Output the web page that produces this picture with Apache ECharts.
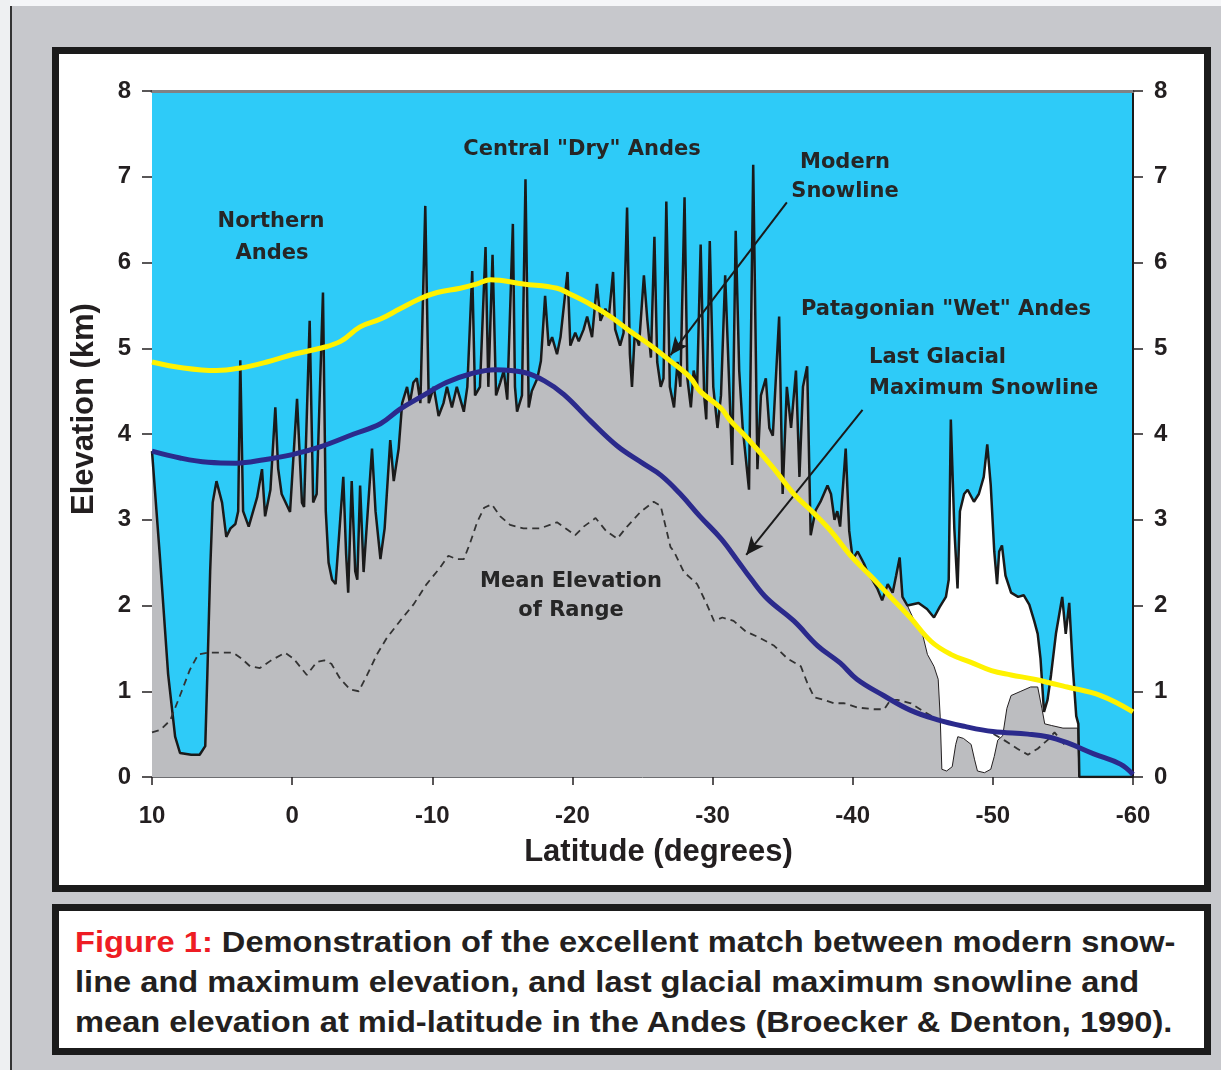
<!DOCTYPE html>
<html>
<head>
<meta charset="utf-8">
<title>Andes snowline and elevation</title>
<script src="https://cdn.jsdelivr.net/npm/echarts@6/dist/echarts.min.js"></script>
<style>
  html, body { margin: 0; padding: 0; }
  body {
    width: 1221px; height: 1070px; position: relative; overflow: hidden;
    background: #c7c8cc;
  }
  .top-strip { position: absolute; left: 0; top: 0; width: 1221px; height: 6px; background: #f5f6f8; }
  .left-strip { position: absolute; left: 0; top: 0; width: 10px; height: 1070px; background: #eef0f2; }
  .left-rule { position: absolute; left: 10px; top: 6px; width: 2px; height: 1064px; background: #333; }
  .panel {
    position: absolute; left: 52px; top: 47px; width: 1159px; height: 845px;
    box-sizing: border-box; border: 7px solid #1b1b1b; background: #fff;
  }
  .caption {
    position: absolute; left: 52px; top: 904px; width: 1159px; height: 151px;
    box-sizing: border-box; border: 7px solid #1b1b1b; background: #fff;
    padding: 11px 0 0 16px;
    font-family: "Liberation Sans", Arial, sans-serif; font-weight: bold;
    font-size: 29px; line-height: 40px; color: #231f20; white-space: nowrap;
  }
  /* the scanned caption type is a little wider than Arial */
  .caption .txt { transform: scaleX(1.125); transform-origin: 0 0; }
  .caption .fig { color: #ee1c24; }
  #chart { position: absolute; left: 0; top: 0; width: 1221px; height: 1070px; }
</style>
</head>
<body>
<div class="top-strip"></div>
<div class="left-strip"></div>
<div class="left-rule"></div>
<div class="panel"></div>
<div class="caption"><div class="txt"><span class="fig">Figure 1:</span> Demonstration of the excellent match between modern snow-<br>line and maximum elevation, and last glacial maximum snowline and<br>mean elevation at mid-latitude in the Andes (Broecker &amp; Denton, 1990).</div></div>
<div id="chart"></div>

<script>
// [latitude, km] — maximum elevation of the range (thick black profile)
var maxElevation = [
  [10.0, 3.8], [9.45, 2.6], [8.85, 1.2], [8.35, 0.47], [8.0, 0.28], [7.2, 0.26], [6.6, 0.26],
  [6.2, 0.36], [6.05, 1.2], [5.85, 2.4], [5.67, 3.2], [5.4, 3.45], [5.0, 3.2], [4.7, 2.8],
  [4.4, 2.9], [4.05, 2.95], [3.85, 3.1], [3.7, 4.86], [3.5, 3.1], [3.1, 2.92], [2.5, 3.26],
  [2.15, 3.59], [1.93, 3.04], [1.55, 3.35], [1.2, 4.31], [1.0, 3.6], [0.75, 3.3], [0.15, 3.09],
  [-0.35, 4.41], [-0.7, 3.2], [-0.85, 3.15], [-1.25, 5.32], [-1.5, 3.2], [-1.75, 3.3],
  [-2.2, 5.65], [-2.4, 3.1], [-2.6, 2.5], [-2.85, 2.3], [-3.1, 2.25], [-3.65, 3.5], [-3.85, 2.6],
  [-4.0, 2.15], [-4.25, 3.45], [-4.5, 2.4], [-4.65, 2.3], [-4.85, 3.4], [-5.1, 2.39],
  [-5.7, 3.83], [-5.95, 3.1], [-6.3, 2.54], [-6.6, 2.9], [-7.0, 3.93], [-7.25, 3.45],
  [-7.6, 3.83], [-7.85, 4.36], [-8.2, 4.55], [-8.4, 4.36], [-8.65, 4.6], [-8.9, 4.65],
  [-9.15, 4.36], [-9.5, 6.66], [-9.75, 4.36], [-10.1, 4.55], [-10.45, 4.21], [-10.8, 4.36],
  [-11.05, 4.55], [-11.4, 4.31], [-11.75, 4.55], [-12.25, 4.26], [-12.5, 4.55], [-12.85, 5.9],
  [-13.05, 4.45], [-13.4, 4.55], [-13.8, 6.18], [-14.0, 4.55], [-14.3, 6.09], [-14.55, 4.45],
  [-14.85, 4.6], [-15.1, 4.74], [-15.35, 4.4], [-15.75, 6.45], [-15.9, 4.55], [-16.05, 4.26],
  [-16.4, 4.45], [-16.65, 6.97], [-16.88, 4.31], [-17.1, 4.5], [-17.5, 4.65], [-17.75, 4.85],
  [-18.05, 5.61], [-18.3, 5.03], [-18.55, 5.13], [-18.9, 4.93], [-19.15, 5.13], [-19.65, 5.89],
  [-19.85, 5.03], [-20.2, 5.18], [-20.45, 5.08], [-20.8, 5.22], [-21.05, 5.37], [-21.4, 5.13],
  [-21.75, 5.75], [-22.0, 5.32], [-22.35, 5.46], [-22.6, 5.37], [-22.9, 5.89], [-23.05, 5.22],
  [-23.4, 5.03], [-23.65, 5.18], [-23.9, 6.64], [-24.1, 4.93], [-24.25, 4.55], [-24.45, 5.18],
  [-24.75, 5.03], [-25.1, 5.85], [-25.35, 5.32], [-25.6, 4.89], [-25.85, 6.3], [-26.05, 4.84],
  [-26.3, 4.55], [-26.5, 4.65], [-26.7, 6.71], [-26.95, 4.55], [-27.25, 4.31], [-27.5, 4.84],
  [-27.7, 4.55], [-28.0, 6.76], [-28.2, 4.65], [-28.45, 4.31], [-28.65, 4.74], [-28.9, 4.55],
  [-29.15, 6.21], [-29.4, 4.45], [-29.55, 4.17], [-29.8, 6.25], [-30.05, 4.55], [-30.35, 4.07],
  [-30.6, 4.45], [-30.9, 5.85], [-31.15, 4.74], [-31.4, 3.64], [-31.65, 6.37], [-31.9, 4.74],
  [-32.15, 4.07], [-32.6, 3.35], [-32.9, 7.14], [-33.2, 3.59], [-33.45, 4.45], [-33.8, 4.65],
  [-34.05, 4.07], [-34.3, 3.98], [-34.75, 5.37], [-35.0, 3.3], [-35.3, 4.55], [-35.6, 4.07],
  [-35.95, 4.74], [-36.2, 3.5], [-36.45, 4.55], [-36.75, 4.79], [-37.0, 2.82], [-37.35, 3.11],
  [-37.7, 3.21], [-38.2, 3.4], [-38.45, 3.3], [-38.7, 3.0], [-38.9, 3.1], [-39.1, 2.92],
  [-39.5, 3.83], [-39.75, 2.87], [-40.0, 2.54], [-40.35, 2.63], [-40.8, 2.49], [-41.05, 2.39],
  [-41.4, 2.3], [-41.75, 2.2], [-42.1, 2.06], [-42.5, 2.25], [-42.85, 2.15], [-43.1, 2.35],
  [-43.35, 2.56], [-43.55, 2.1], [-43.9, 2.0], [-44.7, 2.03], [-45.3, 1.96], [-45.8, 1.86],
  [-46.2, 1.98], [-46.65, 2.1], [-46.85, 2.3], [-47.0, 4.17], [-47.25, 2.9], [-47.48, 2.2],
  [-47.65, 3.1], [-47.95, 3.3], [-48.2, 3.35], [-48.65, 3.21], [-49.0, 3.3], [-49.35, 3.5],
  [-49.6, 3.88], [-49.85, 3.4], [-50.1, 2.63], [-50.3, 2.25], [-50.45, 2.63], [-50.65, 2.7],
  [-50.9, 2.35], [-51.3, 2.15], [-51.8, 2.1], [-52.2, 2.12], [-52.6, 2.01], [-52.95, 1.82],
  [-53.2, 1.67], [-53.4, 1.38], [-53.65, 0.76], [-53.9, 0.9], [-54.15, 1.19], [-54.5, 1.67],
  [-54.95, 2.1], [-55.2, 1.67], [-55.45, 2.03], [-55.7, 1.29], [-55.95, 0.71], [-56.1, 0.62],
  [-56.17, 0], [-60, 0]
];

// lower edge of the white (ice field) patch in Patagonia; starts a little
// before the patch so the grey covers the patch's left side cleanly
var iceLowerEdge = [
  [-43.35, 2.56], [-43.55, 2.1], [-43.9, 2.0], [-44.4, 1.82], [-44.9, 1.72], [-45.33, 1.43],
  [-45.8, 1.29], [-46.1, 1.14], [-46.24, 0.71], [-46.36, 0.09], [-46.7, 0.07], [-47.1, 0.12],
  [-47.35, 0.38], [-47.5, 0.47], [-47.9, 0.45], [-48.45, 0.38], [-48.7, 0.2], [-48.9, 0.07],
  [-49.4, 0.05], [-49.85, 0.09], [-50.1, 0.24], [-50.35, 0.43], [-50.7, 0.48], [-51.0, 0.8],
  [-51.3, 0.95], [-52.0, 1.0], [-52.7, 1.05], [-53.2, 1.05], [-53.5, 0.8], [-53.7, 0.62],
  [-54.2, 0.6], [-55.0, 0.57], [-56.05, 0.57], [-56.15, 0]
];

// mean elevation of range (dashed)
var meanElevation = [
  [10.0, 0.52], [9.4, 0.55], [8.7, 0.66], [8.0, 0.95], [7.3, 1.25], [6.7, 1.43], [6.0, 1.45],
  [5.0, 1.45], [4.2, 1.45], [3.6, 1.38], [3.0, 1.29], [2.3, 1.27], [1.5, 1.36], [0.5, 1.45],
  [-0.1, 1.38], [-1.05, 1.19], [-1.75, 1.34], [-2.3, 1.36], [-2.8, 1.32], [-3.45, 1.14],
  [-4.15, 1.02], [-4.75, 1.0], [-5.35, 1.19], [-6.05, 1.43], [-6.75, 1.62], [-7.7, 1.82],
  [-8.65, 2.01], [-9.6, 2.25], [-10.55, 2.44], [-11.15, 2.58], [-11.75, 2.54], [-12.25, 2.54],
  [-12.7, 2.73], [-13.2, 2.97], [-13.7, 3.14], [-14.25, 3.18], [-14.85, 3.04], [-15.55, 2.94],
  [-16.5, 2.9], [-17.7, 2.9], [-18.9, 2.97], [-19.5, 2.9], [-20.2, 2.82], [-20.8, 2.92],
  [-21.65, 3.02], [-22.4, 2.87], [-23.2, 2.78], [-23.9, 2.92], [-24.85, 3.09], [-25.8, 3.21],
  [-26.3, 3.16], [-26.65, 2.92], [-27.0, 2.68], [-27.25, 2.63], [-27.95, 2.39], [-28.9, 2.25],
  [-29.6, 2.01], [-30.1, 1.82], [-30.7, 1.86], [-31.5, 1.82], [-32.35, 1.7], [-33.4, 1.62],
  [-34.4, 1.53], [-35.35, 1.38], [-36.3, 1.29], [-36.75, 1.1], [-37.25, 0.93], [-37.95, 0.9],
  [-38.65, 0.86], [-39.4, 0.86], [-40.35, 0.81], [-41.5, 0.79], [-42.25, 0.79], [-42.7, 0.9],
  [-43.2, 0.9], [-44.15, 0.86], [-45.1, 0.76], [-46.05, 0.67], [-47.0, 0.62], [-47.95, 0.59],
  [-48.9, 0.57], [-49.85, 0.52], [-50.8, 0.43], [-51.75, 0.33], [-52.5, 0.26], [-53.2, 0.33],
  [-53.9, 0.43], [-54.4, 0.52], [-55.1, 0.38]
];

// modern snowline (yellow)
var modernSnowline = [
  [10.0, 4.84], [7.75, 4.77], [5.4, 4.74], [3.7, 4.77], [1.8, 4.84], [-0.1, 4.93], [-2.0, 5.0],
  [-3.45, 5.08], [-4.85, 5.25], [-6.3, 5.34], [-7.7, 5.46], [-9.15, 5.58], [-10.35, 5.65],
  [-12.0, 5.7], [-13.2, 5.75], [-14.15, 5.8], [-16.5, 5.75], [-18.9, 5.7], [-19.85, 5.63],
  [-21.3, 5.51], [-22.7, 5.37], [-24.1, 5.2], [-25.6, 5.03], [-27.0, 4.85], [-28.4, 4.66],
  [-29.1, 4.5], [-30.6, 4.3], [-31.3, 4.15], [-32.2, 4.0], [-33.4, 3.78], [-34.6, 3.55],
  [-35.8, 3.3], [-37.2, 3.08], [-38.43, 2.87], [-39.86, 2.58], [-41.3, 2.34], [-42.7, 2.1],
  [-44.1, 1.86], [-45.6, 1.58], [-47.0, 1.43], [-48.4, 1.34], [-49.9, 1.24], [-51.3, 1.19],
  [-52.95, 1.14], [-55.3, 1.05], [-57.7, 0.95], [-60.0, 0.76]
];

// last glacial maximum snowline (navy)
var lgmSnowline = [
  [10.0, 3.8], [8.0, 3.72], [6.0, 3.67], [4.0, 3.66], [2.0, 3.7], [0.0, 3.76], [-2.0, 3.85],
  [-4.4, 4.0], [-6.3, 4.12], [-7.7, 4.29], [-9.15, 4.43], [-11.0, 4.6], [-12.7, 4.7],
  [-14.5, 4.75], [-16.5, 4.72], [-18.0, 4.62], [-19.4, 4.46], [-21.3, 4.15], [-23.2, 3.86],
  [-25.0, 3.66], [-26.3, 3.52], [-27.7, 3.3], [-29.1, 3.04], [-30.6, 2.78], [-31.8, 2.52],
  [-32.7, 2.32], [-33.9, 2.08], [-35.8, 1.82], [-37.5, 1.53], [-39.1, 1.33], [-40.3, 1.14],
  [-42.2, 0.95], [-44.1, 0.78], [-46.0, 0.67], [-48.0, 0.59], [-50.0, 0.53], [-52.5, 0.5],
  [-53.9, 0.47], [-55.3, 0.4], [-57.2, 0.27], [-59.1, 0.15], [-60.0, 0.03]
];

// annotation arrows: [from, to] in [latitude, km]
var arrowModern = [[-35.3, 6.7], [-27.0, 4.92]];
var arrowLgm = [[-40.7, 4.28], [-32.4, 2.59]];

var iceRange = [-43.9, -56.17];

var chart = echarts.init(document.getElementById('chart'));

var axisFont = '"Liberation Sans", Arial, sans-serif';
var ink = '#231f20';
var labelFont = 'bold 21px "DejaVu Sans", sans-serif';

function note(text, x, y, align) {
  return {
    type: 'text', x: x, y: y, silent: true, z: 100,
    style: { text: text, font: labelFont, fill: '#262626', align: align || 'center', verticalAlign: 'middle' }
  };
}

var tickStyle = { show: true, length: 10, lineStyle: { color: ink, width: 1.5 } };
var tickLabel = { margin: 21, fontFamily: axisFont, fontWeight: 'bold', fontSize: 24, color: ink };
var nameStyle = { fontFamily: axisFont, fontWeight: 'bold', fontSize: 31, color: ink };

chart.setOption({
  animation: false,
  grid: {
    left: 152, top: 91, width: 981, height: 686,
    show: true, backgroundColor: '#2ecbf8', borderWidth: 0
  },
  xAxis: [{
    type: 'value', min: -60, max: 10, interval: 10, inverse: true,
    name: 'Latitude (degrees)', nameLocation: 'middle', nameGap: 60,
    nameTextStyle: Object.assign({ padding: [0, 0, 0, 32] }, nameStyle),
    axisLine: { show: true, onZero: false, lineStyle: { color: '#6d6e71', width: 1 } },
    axisTick: { show: true, length: 8, lineStyle: { color: ink, width: 1.5 } },
    axisLabel: { margin: 27, fontFamily: axisFont, fontWeight: 'bold', fontSize: 24, color: ink },
    splitLine: { show: false }
  }, {
    type: 'value', position: 'top', min: -60, max: 10, inverse: true,
    axisLine: { show: true, onZero: false, lineStyle: { color: '#808285', width: 3 } },
    axisTick: { show: false }, axisLabel: { show: false }, splitLine: { show: false }
  }],
  yAxis: [{
    type: 'value', position: 'left', min: 0, max: 8, interval: 1,
    name: 'Elevation (km)', nameLocation: 'middle', nameRotate: 90, nameGap: 52,
    nameTextStyle: Object.assign({ padding: [0, 0, 0, 50] }, nameStyle),
    axisLine: { show: false, onZero: false },
    axisTick: tickStyle,
    axisLabel: tickLabel,
    splitLine: { show: false }
  }, {
    type: 'value', position: 'right', min: 0, max: 8, interval: 1,
    axisLine: { show: true, onZero: false, lineStyle: { color: '#1b1b1b', width: 2 } },
    axisTick: tickStyle,
    axisLabel: tickLabel,
    splitLine: { show: false }
  }],
  series: [{
    // grey body of the range
    type: 'line', data: maxElevation, showSymbol: false, silent: true, z: 1,
    lineStyle: { opacity: 0 },
    areaStyle: { color: '#bcbdc0', opacity: 1 }
  }, {
    // white ice field under the Patagonian profile
    type: 'line', showSymbol: false, silent: true, z: 2,
    data: maxElevation.filter(function (p) { return p[0] <= iceRange[0] && p[0] >= iceRange[1]; }),
    lineStyle: { opacity: 0 },
    areaStyle: { color: '#ffffff', opacity: 1 }
  }, {
    type: 'line', data: iceLowerEdge, showSymbol: false, silent: true, z: 3,
    lineStyle: { color: ink, width: 1 },
    areaStyle: { color: '#bcbdc0', opacity: 1 }
  }, {
    type: 'line', data: maxElevation, showSymbol: false, silent: true, z: 4,
    lineStyle: { color: '#1a1a1a', width: 2.5 }
  }, {
    type: 'line', data: meanElevation, showSymbol: false, silent: true, z: 5,
    lineStyle: { color: '#333', width: 1.8, type: [7, 5] }
  }, {
    type: 'line', data: lgmSnowline, showSymbol: false, silent: true, z: 6, smooth: 0.4,
    lineStyle: { color: '#2b2a8c', width: 5 }
  }, {
    type: 'line', data: modernSnowline, showSymbol: false, silent: true, z: 7, smooth: 0.4,
    lineStyle: { color: '#fff200', width: 5 },
    markLine: {
      silent: true, animation: false,
      symbol: ['none', 'arrow'], symbolSize: [12, 18],
      lineStyle: { color: '#1a1a1a', width: 2, type: 'solid' },
      label: { show: false },
      data: [
        [{ coord: arrowModern[0] }, { coord: arrowModern[1] }],
        [{ coord: arrowLgm[0] }, { coord: arrowLgm[1] }]
      ]
    }
  }],
  graphic: [
    note('Northern', 271, 222), note('Andes', 272, 254),
    note('Central "Dry" Andes', 582, 150),
    note('Modern', 845, 163), note('Snowline', 845, 192),
    note('Patagonian "Wet" Andes', 946, 310),
    note('Last Glacial', 869, 358, 'left'), note('Maximum Snowline', 869, 389, 'left'),
    note('Mean Elevation', 571, 582), note('of Range', 571, 611)
  ]
});
</script>
</body>
</html>
